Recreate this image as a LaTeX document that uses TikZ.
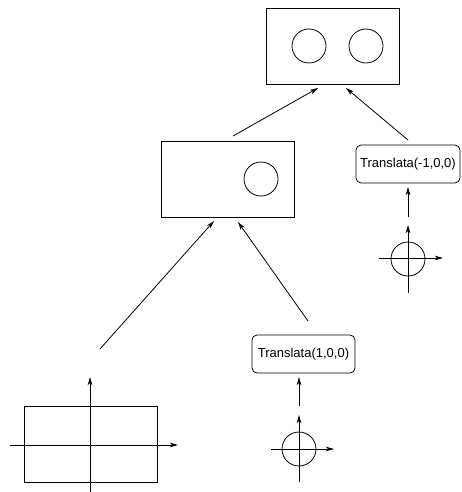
\documentclass[tikz,border=0pt]{standalone}
\usepackage{fontspec}
\setmainfont{Liberation Sans}
\usetikzlibrary{arrows.meta}
\begin{document}
\begin{tikzpicture}[x=1pt,y=-1pt,
  line width=0.8pt,
  tip/.style={-{Stealth[length=8pt,width=4.5pt,inset=2pt]}},
  frame/.style={draw,minimum width=133pt,minimum height=76pt,inner sep=0pt},
  ball/.style={draw,circle,minimum size=34pt,inner sep=0pt},
  xform/.style={draw,rounded corners=5pt,minimum height=38pt,inner sep=0pt,
    font=\fontsize{13}{15}\selectfont},
]
\useasboundingbox (0,0) rectangle (461,492);

% scene graph: root group
\node[frame] (root) at (332.5,46) {};
\node[ball] (rootA) at (309,46) {};
\node[ball] (rootB) at (366,46) {};

% inner group
\node[frame] (grp) at (227.5,179) {};
\node[ball] (grpA) at (261,179) {};

% transforms
\node[xform,minimum width=104pt] (tr2) at (408,164) {Translata(-1,0,0)};
\node[xform,minimum width=103pt] (tr1) at (303.5,354) {Translata(1,0,0)};

% base object: box with axes
\node[frame] (base) at (90.5,444) {};
\coordinate (baseL) at (10,445);
\coordinate (baseR) at (178,445);
\coordinate (baseB) at (90,492);
\coordinate (baseT) at (90,377);
\draw[tip] (baseL) -- (baseR);
\draw[tip] (baseB) -- (baseT);

% sphere 1 with axes
\node[ball] (sph1) at (299,449) {};
\coordinate (s1L) at (271,449);
\coordinate (s1R) at (334,449);
\coordinate (s1B) at (299,482);
\coordinate (s1T) at (299,415);
\draw[tip] (s1L) -- (s1R);
\draw[tip] (s1B) -- (s1T);

% sphere 2 with axes
\node[ball] (sph2) at (408,259) {};
\coordinate (s2L) at (379,258);
\coordinate (s2R) at (443,258);
\coordinate (s2B) at (408,293);
\coordinate (s2T) at (408,225);
\draw[tip] (s2L) -- (s2R);
\draw[tip] (s2B) -- (s2T);

% links between levels
\coordinate (a1s) at (299,406);
\coordinate (a1e) at (299,377);
\draw[tip] (a1s) -- (a1e);

\coordinate (a2s) at (408,217);
\coordinate (a2e) at (408,187);
\draw[tip] (a2s) -- (a2e);

\coordinate (a3s) at (100,349);
\coordinate (a3e) at (214,221);
\draw[tip] (a3s) -- (a3e);

\coordinate (a4s) at (308,321);
\coordinate (a4e) at (238,222);
\draw[tip] (a4s) -- (a4e);

\coordinate (a5s) at (233,136);
\coordinate (a5e) at (318,88);
\draw[tip] (a5s) -- (a5e);

\coordinate (a6s) at (408,140);
\coordinate (a6e) at (346,88);
\draw[tip] (a6s) -- (a6e);
\end{tikzpicture}
\end{document}
